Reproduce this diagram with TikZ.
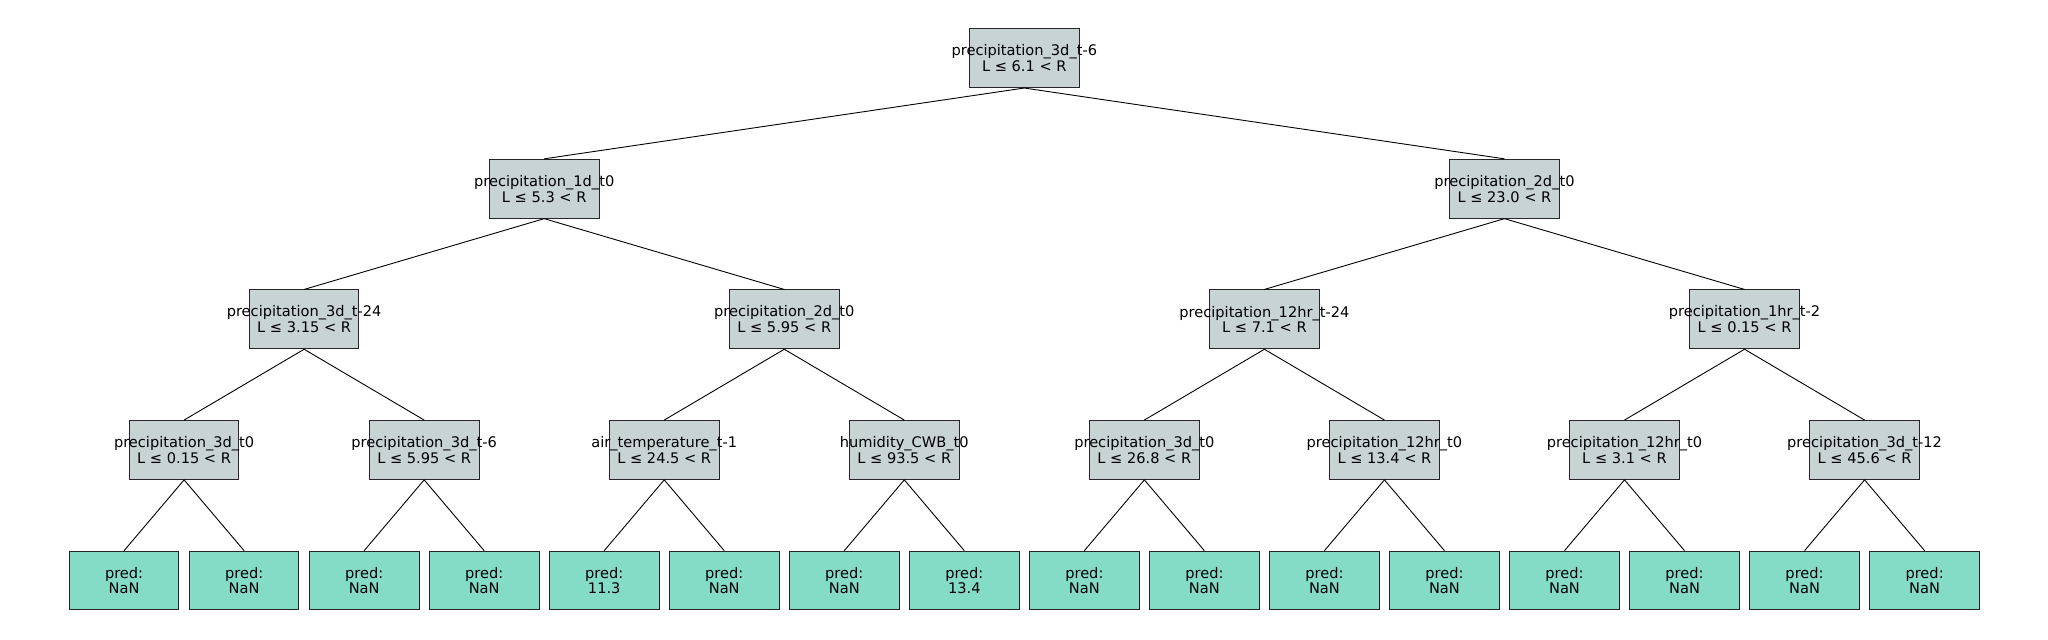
\documentclass[tikz,border=0pt]{standalone}
\usepackage{fontspec}
\setmainfont{DejaVu Sans}
\definecolor{splitgrey}{HTML}{C8D3D4}
\definecolor{leafgreen}{HTML}{85DCC6}

\tikzstyle{split} = [draw=black!85, fill=splitgrey, line width=1pt, rectangle,
  minimum width=109.7pt, minimum height=58.8pt, inner sep=0pt, align=center]
\tikzstyle{leaf} = [draw=black!85, fill=leafgreen, line width=1pt, rectangle,
  minimum width=109.7pt, minimum height=58.8pt, inner sep=0pt, align=center]
\tikzstyle{branch} = [draw=black, line width=0.9pt]

\newcommand{\cond}[2]{\makebox[0pt]{#1}\\\makebox[0pt]{L ≤ #2 < R}}
\newcommand{\pred}[1]{\makebox[0pt]{pred:}\\\makebox[0pt]{#1}}

\begin{document}
\begin{tikzpicture}[x=1.306pt, y=-1.306pt, font=\fontsize{14.6}{15.7}\selectfont]
        \useasboundingbox[fill=white] (0,0) rectangle (1568,490);

        % splits
        \node [split] (root) at (784.25, 44.5) {\cond{precipitation\_3d\_t-6}{6.1}};
        \node [split] (a)    at (416.65,144.5) {\cond{precipitation\_1d\_t0}{5.3}};
        \node [split] (b)    at (1151.85,144.5) {\cond{precipitation\_2d\_t0}{23.0}};
        \node [split] (aa)   at (232.85,244.5) {\cond{precipitation\_3d\_t-24}{3.15}};
        \node [split] (ab)   at (600.45,244.5) {\cond{precipitation\_2d\_t0}{5.95}};
        \node [split] (ba)   at (968.05,244.5) {\cond{precipitation\_12hr\_t-24}{7.1}};
        \node [split] (bb)   at (1335.65,244.5) {\cond{precipitation\_1hr\_t-2}{0.15}};
        \node [split] (aaa)  at (140.95,344.5) {\cond{precipitation\_3d\_t0}{0.15}};
        \node [split] (aab)  at (324.75,344.5) {\cond{precipitation\_3d\_t-6}{5.95}};
        \node [split] (aba)  at (508.55,344.5) {\cond{air\_temperature\_t-1}{24.5}};
        \node [split] (abb)  at (692.35,344.5) {\cond{humidity\_CWB\_t0}{93.5}};
        \node [split] (baa)  at (876.15,344.5) {\cond{precipitation\_3d\_t0}{26.8}};
        \node [split] (bab)  at (1059.95,344.5) {\cond{precipitation\_12hr\_t0}{13.4}};
        \node [split] (bba)  at (1243.75,344.5) {\cond{precipitation\_12hr\_t0}{3.1}};
        \node [split] (bbb)  at (1427.55,344.5) {\cond{precipitation\_3d\_t-12}{45.6}};

        % leaves
        \node [leaf] (l1)  at (95.0,  444.5) {\pred{NaN}};
        \node [leaf] (l2)  at (186.9, 444.5) {\pred{NaN}};
        \node [leaf] (l3)  at (278.8, 444.5) {\pred{NaN}};
        \node [leaf] (l4)  at (370.7, 444.5) {\pred{NaN}};
        \node [leaf] (l5)  at (462.6, 444.5) {\pred{11.3}};
        \node [leaf] (l6)  at (554.5, 444.5) {\pred{NaN}};
        \node [leaf] (l7)  at (646.4, 444.5) {\pred{NaN}};
        \node [leaf] (l8)  at (738.3, 444.5) {\pred{13.4}};
        \node [leaf] (l9)  at (830.2, 444.5) {\pred{NaN}};
        \node [leaf] (l10) at (922.1, 444.5) {\pred{NaN}};
        \node [leaf] (l11) at (1014.0,444.5) {\pred{NaN}};
        \node [leaf] (l12) at (1105.9,444.5) {\pred{NaN}};
        \node [leaf] (l13) at (1197.8,444.5) {\pred{NaN}};
        \node [leaf] (l14) at (1289.7,444.5) {\pred{NaN}};
        \node [leaf] (l15) at (1381.6,444.5) {\pred{NaN}};
        \node [leaf] (l16) at (1473.5,444.5) {\pred{NaN}};

        \draw[branch] (root.south) -- (a.north);
        \draw[branch] (root.south) -- (b.north);
        \draw[branch] (a.south) -- (aa.north);
        \draw[branch] (a.south) -- (ab.north);
        \draw[branch] (b.south) -- (ba.north);
        \draw[branch] (b.south) -- (bb.north);
        \draw[branch] (aa.south) -- (aaa.north);
        \draw[branch] (aa.south) -- (aab.north);
        \draw[branch] (ab.south) -- (aba.north);
        \draw[branch] (ab.south) -- (abb.north);
        \draw[branch] (ba.south) -- (baa.north);
        \draw[branch] (ba.south) -- (bab.north);
        \draw[branch] (bb.south) -- (bba.north);
        \draw[branch] (bb.south) -- (bbb.north);
        \draw[branch] (aaa.south) -- (l1.north);
        \draw[branch] (aaa.south) -- (l2.north);
        \draw[branch] (aab.south) -- (l3.north);
        \draw[branch] (aab.south) -- (l4.north);
        \draw[branch] (aba.south) -- (l5.north);
        \draw[branch] (aba.south) -- (l6.north);
        \draw[branch] (abb.south) -- (l7.north);
        \draw[branch] (abb.south) -- (l8.north);
        \draw[branch] (baa.south) -- (l9.north);
        \draw[branch] (baa.south) -- (l10.north);
        \draw[branch] (bab.south) -- (l11.north);
        \draw[branch] (bab.south) -- (l12.north);
        \draw[branch] (bba.south) -- (l13.north);
        \draw[branch] (bba.south) -- (l14.north);
        \draw[branch] (bbb.south) -- (l15.north);
        \draw[branch] (bbb.south) -- (l16.north);
      \end{tikzpicture}
\end{document}
